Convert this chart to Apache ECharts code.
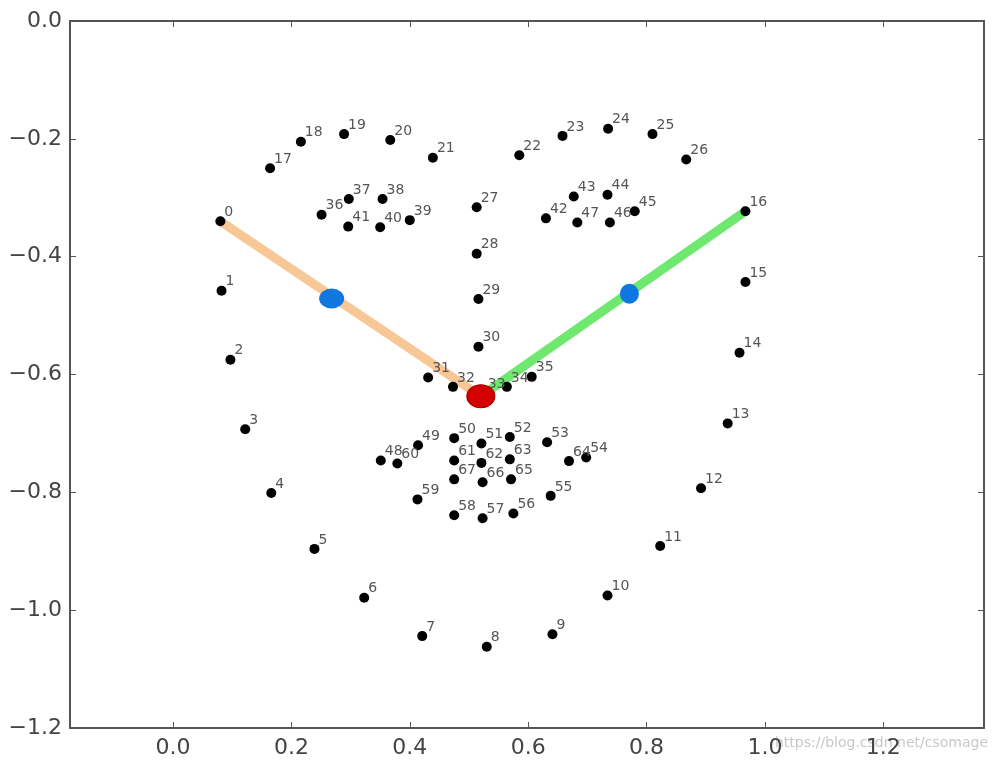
<!DOCTYPE html>
<html>
<head>
<meta charset="utf-8">
<script src="https://cdn.jsdelivr.net/npm/echarts@6/dist/echarts.min.js"></script>
<style>html,body{margin:0;padding:0;background:#fff}#c{width:1000px;height:762px}</style>
</head>
<body>
<div id="c"></div>
<script>
// 68 facial landmark coordinates (index = label)
const pointX = [0.080,0.082,0.097,0.122,0.166,0.239,0.323,0.421,0.530,0.641,0.734,0.823,0.892,0.937,0.957,0.967,0.967,
  0.164,0.216,0.289,0.367,0.439,0.585,0.658,0.735,0.810,0.867,
  0.513,0.513,0.516,0.516,0.431,0.473,0.525,0.564,0.606,
  0.251,0.297,0.354,0.400,0.350,0.296,0.630,0.677,0.734,0.780,0.738,0.683,
  0.351,0.414,0.475,0.521,0.569,0.632,0.698,0.638,0.575,0.523,0.475,0.413,0.379,0.475,0.521,0.569,0.669,0.571,0.523,0.475];
const pointY = [-0.340,-0.458,-0.575,-0.693,-0.801,-0.896,-0.979,-1.044,-1.062,-1.041,-0.975,-0.891,-0.793,-0.683,-0.563,-0.443,-0.323,
  -0.250,-0.205,-0.192,-0.202,-0.232,-0.228,-0.195,-0.183,-0.192,-0.235,
  -0.316,-0.395,-0.472,-0.553,-0.605,-0.621,-0.632,-0.621,-0.604,
  -0.329,-0.302,-0.302,-0.338,-0.350,-0.349,-0.335,-0.298,-0.295,-0.323,-0.342,-0.342,
  -0.746,-0.720,-0.708,-0.717,-0.706,-0.715,-0.741,-0.806,-0.836,-0.844,-0.839,-0.812,-0.751,-0.746,-0.750,-0.744,-0.747,-0.778,-0.783,-0.778];
const redPoint = [0.520, -0.637];
const blueLeft = [0.268, -0.471];
const blueRight = [0.771, -0.463];
const orangeFrom = 0;   // landmark index where orange segment starts
const greenTo = 16;     // landmark index where green segment ends
const xTicks = [0.0, 0.2, 0.4, 0.6, 0.8, 1.0, 1.2];
const yTicks = [0.0, -0.2, -0.4, -0.6, -0.8, -1.0, -1.2];

const fmt = v => { const s = Number(v).toFixed(1); return s.startsWith('-') ? '\u2212' + s.slice(1) : s; };
const axisCommon = {
  type: 'value', splitLine: {show: false},
  axisLine: {show: true, onZero: false, lineStyle: {color: '#555', width: 2}},
  axisTick: {show: true, inside: true, length: 6, lineStyle: {color: '#555', width: 1}}
};
const chart = echarts.init(document.getElementById('c'));
const dots = pointX.map((x, i) => [x, pointY[i], i]);
chart.setOption({
  animation: false,
  backgroundColor: '#fff',
  grid: {left: 70, right: 16, top: 21, bottom: 34},
  xAxis: [
    Object.assign({}, axisCommon, {position: 'bottom', min: -0.174, max: 1.37,
      axisTick: Object.assign({}, axisCommon.axisTick, {customValues: xTicks}),
      axisLabel: {customValues: xTicks, formatter: fmt, fontSize: 22, color: '#444', fontFamily: 'DejaVu Sans', margin: 9}}),
    Object.assign({}, axisCommon, {position: 'top', min: -0.174, max: 1.37,
      axisTick: Object.assign({}, axisCommon.axisTick, {customValues: xTicks}),
      axisLabel: {show: false}})
  ],
  yAxis: [
    Object.assign({}, axisCommon, {position: 'left', min: -1.2, max: 0, interval: 0.2,
      axisLabel: {formatter: fmt, fontSize: 22, color: '#444', fontFamily: 'DejaVu Sans', margin: 8}}),
    Object.assign({}, axisCommon, {position: 'right', min: -1.2, max: 0, interval: 0.2,
      axisLabel: {show: false}})
  ],
  graphic: [{type: 'text', right: 12, top: 736, silent: true,
    style: {text: 'https://blog.csdn.net/csomage', fill: '#c8c8c8', font: '14px DejaVu Sans'}}],
  series: [
    {type: 'line', xAxisIndex: 0, yAxisIndex: 0, symbol: 'none', z: 2,
      data: [[pointX[orangeFrom], pointY[orangeFrom]], redPoint],
      lineStyle: {color: '#f7c795', width: 9}},
    {type: 'line', xAxisIndex: 0, yAxisIndex: 0, symbol: 'none', z: 2,
      data: [redPoint, [pointX[greenTo], pointY[greenTo]]],
      lineStyle: {color: '#6fe86f', width: 9}},
    {type: 'scatter', xAxisIndex: 0, yAxisIndex: 0, z: 3, data: dots, symbolSize: 10,
      itemStyle: {color: '#000', opacity: 1},
      label: {show: true, position: 'right', offset: [-6, -9], formatter: p => String(p.value[2]),
        fontSize: 14, color: '#555', fontFamily: 'DejaVu Sans'}},
    {type: 'scatter', xAxisIndex: 0, yAxisIndex: 0, z: 4, data: [redPoint], symbolSize: [28, 23],
      itemStyle: {color: '#d40000', borderColor: '#a00000', borderWidth: 1, opacity: 1}},
    {type: 'scatter', xAxisIndex: 0, yAxisIndex: 0, z: 4, data: [blueLeft], symbolSize: [25, 20],
      itemStyle: {color: '#1177e0', opacity: 1}},
    {type: 'scatter', xAxisIndex: 0, yAxisIndex: 0, z: 4, data: [blueRight], symbolSize: [19, 20],
      itemStyle: {color: '#1177e0', opacity: 1}}
  ]
});
</script>
</body>
</html>
